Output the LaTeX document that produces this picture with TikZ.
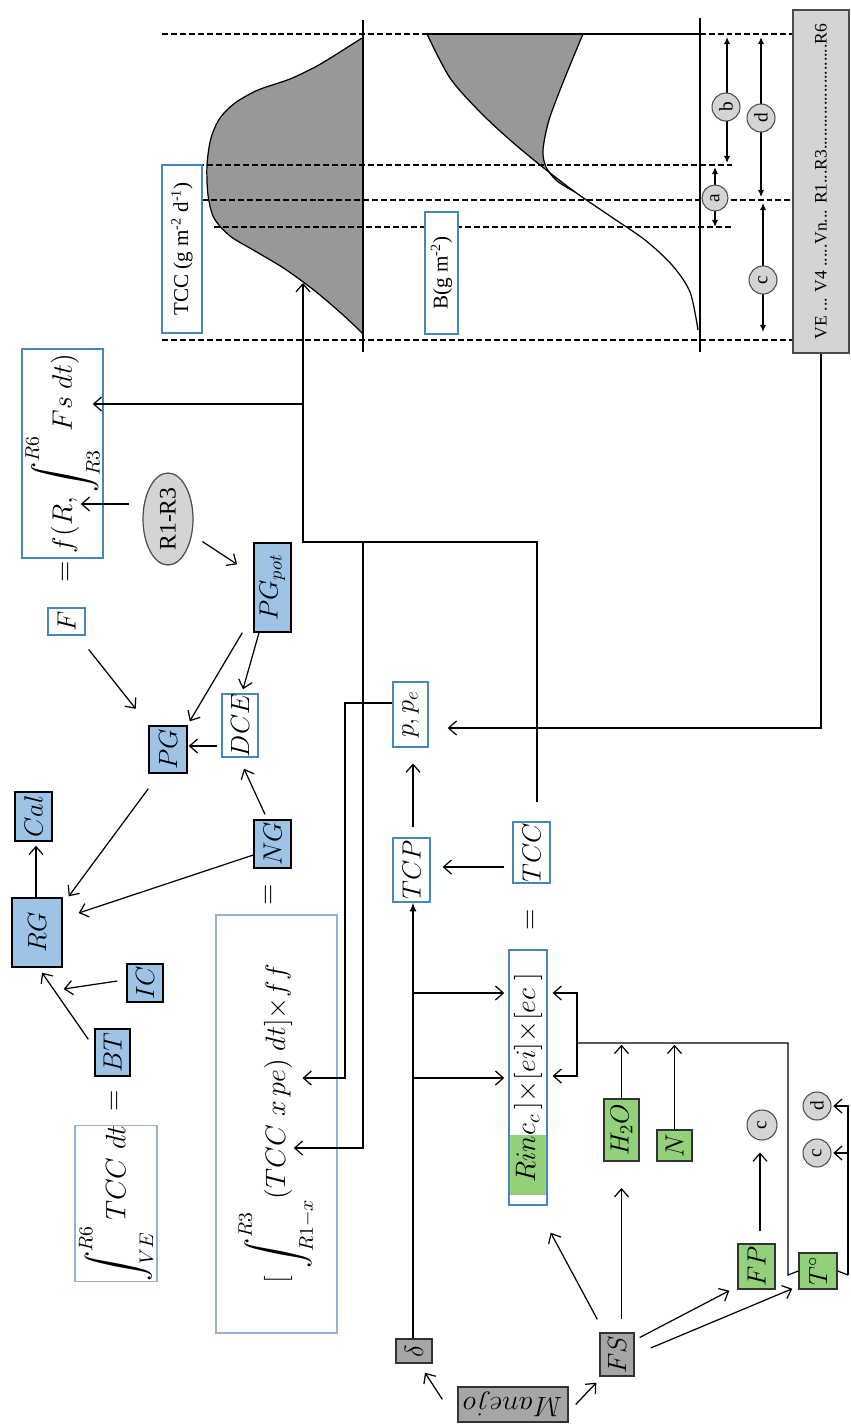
\documentclass[tikz,border=0pt]{standalone}
\usepackage{fix-cm}
\usepackage{exscale}
\usepackage{fontspec}
\usepackage{graphicx}
\usetikzlibrary{arrows.meta,calc,shapes.geometric}
\newfontfamily\lser{Liberation Serif}
\definecolor{bfill}{RGB}{157,195,230}
\definecolor{bline}{RGB}{70,135,190}
\definecolor{lbline}{RGB}{150,175,210}
\definecolor{gfill}{RGB}{146,208,122}
\definecolor{dgray}{RGB}{166,166,166}
\definecolor{lgray}{RGB}{212,212,212}
\definecolor{cgray}{RGB}{150,152,154}
\tikzset{
 bx/.style={draw, inner sep=0pt, font=\fontsize{15}{18}\selectfont, line width=0.8pt},
 bluebox/.style={bx, fill=bfill, draw=black},
 whitebox/.style={bx, fill=white, draw=bline},
 greenbox/.style={bx, fill=gfill, draw=black!80},
 graybox/.style={bx, fill=dgray, draw=black!80},
 sz/.style 2 args={minimum width=#1, minimum height=#2},
 arr/.style={-{Straight Barb[length=4.5pt,width=8pt]}, line width=0.7pt},
 filarr/.style={-{Latex[length=5pt,width=4pt]}, line width=0.7pt},
 dim/.style={{Latex[length=4pt,width=3.5pt]}-{Latex[length=4pt,width=3.5pt]}, line width=0.7pt},
 dsh/.style={dash pattern=on 3.4pt off 1.7pt, line width=0.6pt},
 lbl/.style={circle, draw=black!70, fill=lgray, inner sep=0pt, minimum size=0.56cm, line width=0.6pt, font=\lser\fontsize{11}{12}\selectfont},
 eqs/.style={font=\fontsize{16}{19}\selectfont, inner sep=0pt},
 glab/.style={draw=bline, fill=white, line width=0.7pt, inner sep=0pt, font=\lser\fontsize{12}{14}\selectfont},
}
\begin{document}
\begin{tikzpicture}[x=0.02cm, y=-0.02cm]
\useasboundingbox (0,0) rectangle (850,1426);

% ---------- upper graph (TCC) ----------
\fill[cgray] (363,38) -- plot[smooth] coordinates {(362,38) (340,52) (317,66) (290,79) (258,90) (235,103) (220,118) (211,138) (207,165) (208,195) (214,218) (230,236) (255,251) (285,269) (315,291) (342,314) (358,329) (363,334)} -- cycle;
\draw[line width=0.7pt] plot[smooth] coordinates {(362,38) (340,52) (317,66) (290,79) (258,90) (235,103) (220,118) (211,138) (207,165) (208,195) (214,218) (230,236) (255,251) (285,269) (315,291) (342,314) (358,329) (363,334)};

% ---------- lower graph (B) ----------
\fill[cgray] plot[smooth] coordinates {(427,34) (450,78) (480,112) (510,140) (540,165) (575,192)} -- plot[smooth] coordinates {(575,192) (557,181) (546,167) (543,150) (549,120) (564,80) (583,34)} -- cycle;
\draw[line width=0.7pt] plot[smooth] coordinates {(427,34) (450,78) (480,112) (510,140) (540,165) (575,192) (610,216) (645,240) (672,265) (690,292) (698,330)};
\draw[line width=0.7pt] plot[smooth] coordinates {(575,192) (557,181) (546,167) (543,150) (549,120) (564,80) (583,34)};

% dashed lines
\draw[dsh] (162,34) -- (792,34);
\draw[dsh] (162,165) -- (733,165);
\draw[dsh] (202,200) -- (792,200);
\draw[dsh] (214,227) -- (733,227);
\draw[dsh] (162,340) -- (792,340);
% solid lines
\draw[line width=0.7pt] (427,34) -- (700,34);
\draw[line width=0.7pt] (363,20) -- (363,352);
\draw[line width=0.7pt] (700,18) -- (700,352);

% dimension arrows
\coordinate (bT) at (727,37); \coordinate (bB) at (727,163);
\coordinate (dT) at (761,37); \coordinate (dB) at (761,197);
\coordinate (aT) at (715,167); \coordinate (aB) at (715,227);
\coordinate (cT) at (763,203); \coordinate (cB) at (763,332);
\draw[dim] (bT) -- (bB);
\draw[dim] (dT) -- (dB);
\draw[dim] (aT) -- (aB);
\draw[dim] (cT) -- (cB);
\node[lbl] (lb) at (726,107) {\rotatebox{90}{b}};
\node[lbl] (ld) at (761,118) {\rotatebox{90}{d}};
\node[lbl, minimum size=0.52cm] (la) at (715,198) {\rotatebox{90}{a}};
\node[lbl] (lc) at (763,280) {\rotatebox{90}{c}};

% graph labels
\node[glab, sz={0.8cm}{3.36cm}] (tcclab) at (182,249) {\rotatebox{90}{TCC (g m\textsuperscript{-2} d\textsuperscript{-1})}};
\node[glab, sz={0.66cm}{2.44cm}] (blab) at (441.5,273) {\rotatebox{90}{B(g m\textsuperscript{-2})}};
\node[draw=black!70, fill=lgray, line width=0.7pt, inner sep=0pt, sz={1.12cm}{6.86cm}, font=\lser\fontsize{10}{12}\selectfont] (bar) at (821,181.5) {\rotatebox{90}{VE ... V4 .....Vn... R1...R3........................R6}};

% ---------- left block ----------
\node[bluebox, sz={1.0cm}{1.38cm}] (RG) at (37,932.5) {\rotatebox{90}{$RG$}};
\node[bluebox, sz={0.74cm}{0.98cm}] (Cal) at (33.5,816.5) {\rotatebox{90}{$Cal$}};
\node[bluebox, sz={0.72cm}{0.76cm}] (IC) at (145,983) {\rotatebox{90}{$IC$}};
\node[bluebox, sz={0.70cm}{0.94cm}] (BT) at (112.5,1052.5) {\rotatebox{90}{$BT$}};
\node[bluebox, sz={0.76cm}{0.94cm}] (PG) at (168,749.5) {\rotatebox{90}{$PG$}};
\node[whitebox, sz={0.74cm}{0.54cm}] (F) at (66.5,621.5) {\rotatebox{90}{$F$}};
\node[bluebox, sz={0.74cm}{1.78cm}] (PGpot) at (272.5,587.5) {\rotatebox{90}{$PG_{pot}$}};
\node[whitebox, sz={0.72cm}{1.26cm}] (DCE) at (240,725.5) {\rotatebox{90}{$DCE$}};
\node[bluebox, sz={0.74cm}{0.96cm}] (NG) at (272.5,844) {\rotatebox{90}{$NG$}};
\node[ellipse, draw=black!70, fill=lgray, line width=0.7pt, inner sep=0pt, sz={1.0cm}{1.84cm}, font=\lser\fontsize{13.5}{15}\selectfont] (R13) at (168,519) {\rotatebox{90}{R1-R3}};
\node[whitebox, sz={1.62cm}{4.18cm}, font=\fontsize{16}{19}\selectfont] (fbox) at (62.5,453.5) {\rotatebox{90}{$f(R,\displaystyle\int_{R3}^{R6} Fs\;dt)$}};
\node[eqs] (eq1) at (67,572) {\rotatebox{90}{$=$}};
\node[whitebox, draw=lbline, sz={1.64cm}{2.98cm}, font=\fontsize{16}{19}\selectfont] (int1) at (116,1203.5) {\rotatebox{90}{$\displaystyle\int_{VE}^{R6} TCC\;dt$}};
\node[eqs] (eq2) at (116,1101) {\rotatebox{90}{$=$}};
\node[whitebox, draw=lbline, sz={2.42cm}{8.36cm}, font=\fontsize{16}{19}\selectfont] (bigbox) at (276.5,1124) {\rotatebox{90}{$[\;\displaystyle\int_{R1-x}^{R3}(TCC\ x\,pe)\;dt]{\times} ff$}};
\node[eqs] (eq3) at (270,895) {\rotatebox{90}{$=$}};

% ---------- middle ----------
\node[whitebox, sz={0.70cm}{1.30cm}] (ppe) at (410.5,714.5) {\rotatebox{90}{$p,p_e$}};
\node[whitebox, sz={0.74cm}{1.28cm}] (TCP) at (411.5,870) {\rotatebox{90}{$TCP$}};
\node[whitebox, sz={0.74cm}{1.22cm}] (TCC) at (531.5,852.5) {\rotatebox{90}{$TCC$}};
\node[eqs] (eq4) at (532,920) {\rotatebox{90}{$=$}};
\fill[gfill] (510,1135) rectangle (546,1195);
\node[bx, draw=bline, sz={0.76cm}{5.10cm}, font=\fontsize{16}{19}\selectfont] (Rinc) at (528,1077.5) {\rotatebox{90}{$Rinc_c\,]{\times}[ei]{\times}[ec\ ]$}};

% ---------- lower right ----------
\node[greenbox, sz={0.70cm}{1.24cm}] (H2O) at (621.5,1130) {\rotatebox{90}{$H_2O$}};
\node[greenbox, sz={0.70cm}{0.62cm}] (N) at (674.5,1145.5) {\rotatebox{90}{$N$}};
\node[greenbox, sz={0.74cm}{0.90cm}] (FP) at (756.5,1266.5) {\rotatebox{90}{$FP$}};
\node[greenbox, sz={0.76cm}{0.72cm}] (To) at (818,1271) {\rotatebox{90}{$T^{\circ}$}};
\node[lbl, minimum size=0.6cm] (c1) at (762,1125) {\rotatebox{90}{c}};
\node[lbl] (c2) at (817,1153) {\rotatebox{90}{c}};
\node[lbl] (d2) at (817,1106) {\rotatebox{90}{d}};
\node[graybox, sz={0.68cm}{0.86cm}] (FS) at (617,1354.5) {\rotatebox{90}{$FS$}};
\node[graybox, sz={0.72cm}{0.48cm}] (delta) at (414,1351) {\rotatebox{90}{$\delta$}};
\node[graybox, sz={2.2cm}{0.70cm}, font=\fontsize{16}{19}\selectfont] (Manejo) at (513,1404.5) {\rotatebox{180}{$Manejo$}};

% ---------- connectors ----------
\draw[arr, shorten <=7.4pt, shorten >=-13pt] (R13.west |- 0,504) -- (fbox.east |- 0,504);
\draw[arr, shorten <=7pt, shorten >=11pt] (R13) -- (PGpot);
\draw[arr, shorten <=10pt, shorten >=12pt] (F) -- (PG);
\draw[arr] ([xshift=-0.22cm]PGpot.south west) -- ([xshift=0.04cm,yshift=0.08cm]PG.north east);
\draw[arr] ([xshift=-0.27cm]PGpot.south) -- ([xshift=0.06cm,yshift=0.08cm]DCE.north);
\draw[arr, shorten <=2.3pt, shorten >=0.6pt] (DCE.west |- 0,746) -- (PG.east |- 0,746);
\draw[arr] ([xshift=-0.15cm,yshift=0.1cm]NG.north) -- ([xshift=0.08cm,yshift=-0.22cm]DCE.south);
\draw[arr] ([yshift=-0.22cm]NG.west) -- ([xshift=0.32cm,yshift=0.39cm]RG.east);
\draw[arr] ([yshift=-0.3cm]PG.south west) -- ([xshift=0.12cm,yshift=0.02cm]RG.north east);
\draw[arr, shorten >=2.3pt] (RG.north -| 36,0) -- (Cal.south -| 36,0);
\draw[arr] ([xshift=-0.18cm,yshift=0.04cm]IC.west) -- ([xshift=0.02cm,yshift=-1.13cm]RG.east);
\draw[arr] ([xshift=-0.12cm,yshift=-0.22cm]BT.north west) -- ([xshift=0.1cm,yshift=-0.1cm]RG.south);

\draw[arr, shorten <=4.5pt, shorten >=6.8pt] (TCC.west |- 0,867) -- (TCP.east |- 0,867);
\coordinate (tccpt) at (303,283);
\coordinate (j1) at (303,404);
\coordinate (j2) at (363,542);
\draw[arr] ([xshift=0.11cm,yshift=0.38cm]TCC.north) |- (j2) -- (303,542) -- (tccpt);
\draw[arr, shorten >=-6.2pt] (j1) -- (fbox.east |- j1);
\draw[arr, shorten >=-25pt] (j2) -- (363,1148) -- (bigbox.east |- 0,1148);
\draw[arr, shorten >=-20pt] (ppe.west |- 0,703) -| (345,1078) -- (bigbox.east |- 0,1078);
\draw[arr, shorten >=10.8pt] (bar.south) |- (ppe.east |- 0,728);
\draw[arr, shorten <=5.7pt, shorten >=9pt] (TCP.north -| 413,0) -- (ppe.south -| 413,0);
\draw[filarr] (delta.north -| 413,0) -- (TCP.south -| 413,0);
\draw[arr, shorten >=2.3pt] (413,993) -- (Rinc.west |- 0,993);
\draw[arr, shorten >=2.3pt] (413,1078) -- (Rinc.west |- 0,1078);

\coordinate (brk) at (577,1043);
\draw[line width=0.7pt] (To.west) -- (788,1275) -- (788,1043) -- (brk);
\draw[arr, shorten >=2.8pt] (brk) |- (Rinc.east |- 0,993);
\draw[arr, shorten >=2.8pt] (brk) |- (Rinc.east |- 0,1076);
\draw[arr, shorten >=1pt] (H2O.north) -- (H2O.north |- brk);
\draw[arr, shorten >=1pt] (N.north) -- (N.north |- brk);
\draw[arr, shorten <=7.4pt, shorten >=15pt] (H2O.south |- FS.north) -- (H2O.south);
\draw[arr] ([xshift=-0.04cm,yshift=0.26cm]FS.north west) -- ([xshift=0.06cm,yshift=-0.54cm]Rinc.south east);
\draw[arr] ([xshift=0.1cm,yshift=0.34cm]FS.east) -- ([xshift=-0.16cm,yshift=-0.02cm]FP.south west);
\draw[arr] ([xshift=0.32cm,yshift=0.13cm]FS.east) -- ([xshift=-0.12cm,yshift=0.02cm]To.south west);
\draw[arr, shorten <=6.8pt, shorten >=6.8pt] (FP.north -| 760,0) -- (c1.south -| 760,0);
\coordinate (tr) at (848,1275);
\draw[line width=0.7pt] (To.east) -- (tr);
\draw[arr, shorten >=1pt] (tr) |- (c2.east);
\draw[arr, shorten >=1pt] (tr) |- (d2.east);
\draw[arr] ([xshift=-0.3cm,yshift=-0.26cm]Manejo.north west) -- ([xshift=0.22cm,yshift=-0.18cm]delta.south);
\draw[arr] ([xshift=0.14cm]Manejo.east) -- ([xshift=-0.06cm,yshift=-0.12cm]FS.south west);
\end{tikzpicture}
\end{document}
